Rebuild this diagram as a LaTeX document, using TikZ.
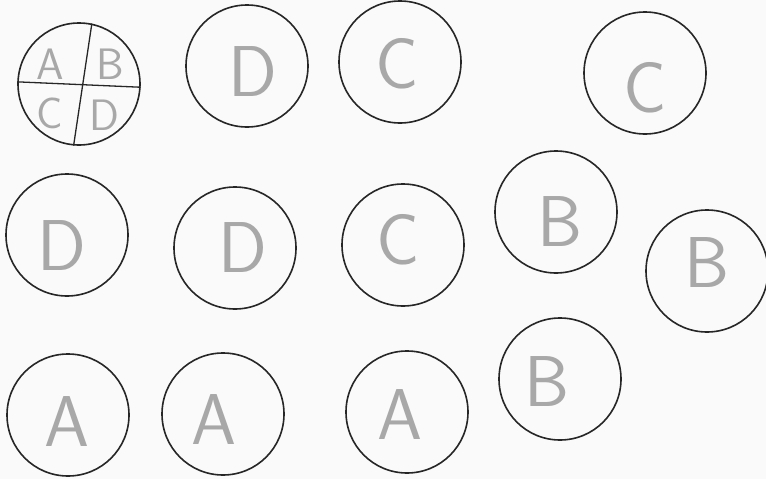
\documentclass[tikz,border=0pt]{standalone}
\usepackage{tikz}
\usepackage{xcolor}
\definecolor{penline}{HTML}{262626}
\definecolor{pencil}{HTML}{A8A8A8}
\definecolor{paper}{HTML}{FBFAFA}

\begin{document}
\begin{tikzpicture}[
    x=1pt, y=-1pt,
    disc/.style={circle, draw=penline, line width=1.6pt, minimum size=122pt, inner sep=0pt},
    letter/.style={text=pencil, font=\sffamily\fontsize{72}{72}\selectfont, inner sep=0pt},
    small/.style={text=pencil, font=\sffamily\fontsize{44}{44}\selectfont, inner sep=0pt},
    cut/.style={draw=penline, line width=1.3pt}
]
\fill[paper] (0,0) rectangle (766,479);
\useasboundingbox (0,0) rectangle (766,479);
% top row
\node[disc] (key) at (79,84) {};
\draw[cut] (key.178) -- (key.357);
\draw[cut] (key.78) -- (key.265);
\node[small] (ka) at (50,64) {A};
\node[small] (kb) at (110,64) {B};
\node[small] (kc) at (50,113) {C};
\node[small] (kd) at (104,115) {D};
\node[disc] (t2) at (247,66) {};
\node[letter] at (253,72) {D};
\node[disc] (t3) at (400,62) {};
\node[letter] at (397,64) {C};
\node[disc] (t4) at (645,73) {};
\node[letter] at (645,88) {C};
% middle row
\node[disc] (m1) at (67,235) {};
\node[letter] at (62,246) {D};
\node[disc] (m2) at (235,248) {};
\node[letter] at (243,248) {D};
\node[disc] (m3) at (403,245) {};
\node[letter] at (398,240) {C};
\node[disc] (m4) at (556,212) {};
\node[letter] at (560,222) {B};
\node[disc] (m5) at (707,271) {};
\node[letter] at (707,263) {B};
% bottom row
\node[disc] (b1) at (68,415) {};
\node[letter] at (67,422) {A};
\node[disc] (b2) at (223,414) {};
\node[letter] at (214,420) {A};
\node[disc] (b3) at (407,412) {};
\node[letter] at (400,415) {A};
\node[disc] (b4) at (560,379) {};
\node[letter] at (547,382) {B};
\end{tikzpicture}
\end{document}
